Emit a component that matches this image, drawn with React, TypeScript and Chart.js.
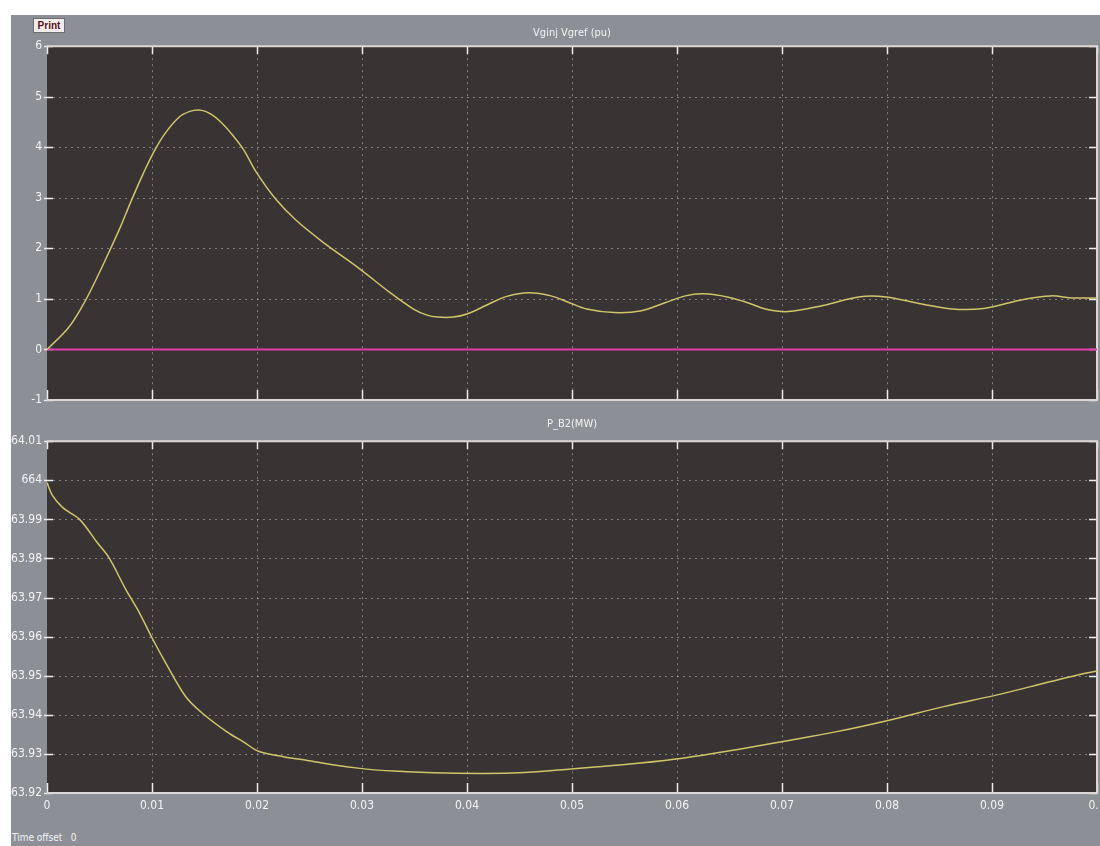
import React, { useEffect, useRef } from "react";
import { Chart, registerables } from "chart.js";

Chart.register(...registerables);

// ---------- data ----------
const TOP_TITLE = "Vginj Vgref (pu)";
const BOTTOM_TITLE = "P_B2(MW)";
const TIME_OFFSET_LABEL = "Time offset";
const TIME_OFFSET_VALUE = "0";

const X_TICKS = [0, 0.01, 0.02, 0.03, 0.04, 0.05, 0.06, 0.07, 0.08, 0.09, 0.1];
const TOP_Y_TICKS = [-1, 0, 1, 2, 3, 4, 5, 6];
const BOTTOM_Y_TICKS = [663.92, 663.93, 663.94, 663.95, 663.96, 663.97, 663.98, 663.99, 664, 664.01];

const VGINJ_T = [
  0, 0.002, 0.0034, 0.0045, 0.0056, 0.0069, 0.008, 0.0091, 0.0102, 0.0113, 0.0126, 0.0136, 0.0144,
  0.0151, 0.0158, 0.0166, 0.0174, 0.0187, 0.0199, 0.0218, 0.0237, 0.0263, 0.0295, 0.0327, 0.0349,
  0.0362, 0.0372, 0.0387, 0.04, 0.042, 0.0438, 0.0459, 0.048, 0.0497, 0.0514, 0.054, 0.0565, 0.0588,
  0.0608, 0.0625, 0.065, 0.0668, 0.0684, 0.0706, 0.0739, 0.0773, 0.0799, 0.0833, 0.0862, 0.0892,
  0.093, 0.0956, 0.0977, 0.1,
];
const VGINJ_V = [
  0, 0.42, 0.87, 1.31, 1.79, 2.38, 2.93, 3.45, 3.92, 4.29, 4.6, 4.71, 4.74,
  4.71, 4.63, 4.49, 4.31, 3.96, 3.52, 2.97, 2.56, 2.12, 1.64, 1.12, 0.8,
  0.68, 0.64, 0.64, 0.7, 0.89, 1.05, 1.12, 1.06, 0.93, 0.8, 0.73, 0.76, 0.92,
  1.06, 1.1, 1.03, 0.92, 0.8, 0.75, 0.87, 1.04, 1.04, 0.9, 0.8, 0.81,
  0.99, 1.06, 1.02, 1.02,
];

const VGREF_T = [0, 0.1];
const VGREF_V = [0, 0];

const PB2_T = [
  0, 0.0005, 0.0015, 0.0031, 0.0048, 0.0059, 0.0075, 0.0088, 0.0101, 0.0113, 0.0132, 0.0148,
  0.0171, 0.0187, 0.0202, 0.0225, 0.0247, 0.0272, 0.0298, 0.033, 0.0379, 0.0442, 0.0497, 0.0548,
  0.0599, 0.065, 0.0701, 0.0752, 0.0803, 0.0854, 0.0905, 0.0956, 0.099, 0.1,
];
const PB2_V = [
  663.9994, 663.9962, 663.993, 663.99, 663.984, 663.9802, 663.9721, 663.9661, 663.9592, 663.9533,
  663.9447, 663.9404, 663.9357, 663.9331, 663.9306, 663.9293, 663.9284, 663.9272, 663.9263,
  663.9256, 663.9251, 663.9251, 663.9261, 663.9272, 663.9287, 663.9308, 663.9332, 663.9357,
  663.9387, 663.9421, 663.9451, 663.9485, 663.9507, 663.9512,
];

// ---------- styles ----------
const FONT = "'Liberation Sans Narrow', 'DejaVu Sans Condensed', 'Arial Narrow', 'Liberation Sans', sans-serif";
const PANEL_GRAY = "#8c8f96";
const PLOT_BG = "#3a3334";
const TEXT_COLOR = "#f4f4f4";
const GRID_COLOR = "rgba(205,205,205,0.5)";
const TICK_COLOR = "#ececec";
const BORDER_COLOR = "#ddd6d6";
const YELLOW = "#cfc56a";
const PINK = "#e03ca6";

const fmt = (v: number) => String(Number(Number(v).toFixed(2)));

const decorPlugin = {
  id: "scopeDecor",
  beforeDraw(chart: any) {
    const { ctx, chartArea: a } = chart;
    ctx.save();
    ctx.fillStyle = PLOT_BG;
    ctx.fillRect(a.left, a.top, a.right - a.left, a.bottom - a.top);
    ctx.restore();
  },
  beforeDatasetsDraw(chart: any) {
    const { ctx, chartArea: a } = chart;
    const xs = chart.scales.x;
    const ys = chart.scales.y;
    ctx.save();
    // dotted grid
    ctx.strokeStyle = GRID_COLOR;
    ctx.lineWidth = 1;
    ctx.setLineDash([2, 4]);
    xs.ticks.forEach((t: any) => {
      const px = Math.round(xs.getPixelForValue(t.value)) + 0.5;
      if (px <= a.left + 2 || px >= a.right - 2) return;
      ctx.beginPath();
      ctx.moveTo(px, a.top);
      ctx.lineTo(px, a.bottom);
      ctx.stroke();
    });
    ys.ticks.forEach((t: any) => {
      const py = Math.round(ys.getPixelForValue(t.value)) + 0.5;
      if (py <= a.top + 2 || py >= a.bottom - 2) return;
      ctx.beginPath();
      ctx.moveTo(a.left, py);
      ctx.lineTo(a.right, py);
      ctx.stroke();
    });
    ctx.setLineDash([]);
    // inner tick marks
    ctx.strokeStyle = TICK_COLOR;
    ctx.lineWidth = 1.5;
    xs.ticks.forEach((t: any) => {
      const px = Math.round(xs.getPixelForValue(t.value)) + 0.5;
      ctx.beginPath();
      ctx.moveTo(px, a.bottom);
      ctx.lineTo(px, a.bottom - 10);
      ctx.moveTo(px, a.top);
      ctx.lineTo(px, a.top + 8);
      ctx.stroke();
    });
    ys.ticks.forEach((t: any) => {
      const py = Math.round(ys.getPixelForValue(t.value)) + 0.5;
      ctx.beginPath();
      ctx.moveTo(a.left - 3, py);
      ctx.lineTo(a.left + 6, py);
      ctx.moveTo(a.right, py);
      ctx.lineTo(a.right - 8, py);
      ctx.stroke();
    });
    // border (top, right, bottom)
    ctx.strokeStyle = BORDER_COLOR;
    ctx.lineWidth = 2;
    ctx.beginPath();
    ctx.moveTo(a.left, a.top);
    ctx.lineTo(a.right, a.top);
    ctx.lineTo(a.right, a.bottom);
    ctx.lineTo(a.left, a.bottom);
    ctx.stroke();
    ctx.restore();
  },
};

function toPoints(t: number[], v: number[]) {
  return t.map((x, i) => ({ x, y: v[i] }));
}

function xScale(showLabels: boolean) {
  return {
    type: "linear",
    min: 0,
    max: 0.1,
    afterBuildTicks: (s: any) => {
      s.ticks = X_TICKS.map((value) => ({ value }));
    },
    grid: { display: false, drawTicks: false },
    border: { display: false },
    ticks: {
      display: showLabels,
      color: TEXT_COLOR,
      font: { family: FONT, size: 12 },
      padding: 6,
      autoSkip: false,
      maxRotation: 0,
      callback: (v: any) => fmt(v),
    },
    afterFit: (s: any) => {
      s.height = showLabels ? 28 : 0;
      s.paddingLeft = 0;
      s.paddingRight = 0;
    },
  };
}

function yScale(min: number, max: number, ticks: number[], size: number) {
  return {
    type: "linear",
    min,
    max,
    afterBuildTicks: (s: any) => {
      s.ticks = ticks.map((value) => ({ value }));
    },
    grid: { display: false, drawTicks: false },
    border: { display: false },
    ticks: {
      color: TEXT_COLOR,
      font: { family: FONT, size },
      padding: 5,
      autoSkip: false,
      callback: (v: any) => fmt(v),
    },
    afterFit: (s: any) => {
      s.width = 36;
      s.paddingTop = 0;
      s.paddingBottom = 0;
    },
  };
}

function titleOpts(text: string, top: number, bottom: number) {
  return {
    display: true,
    text,
    color: TEXT_COLOR,
    fullSize: false,
    font: { family: FONT, size: 11, weight: "normal" },
    padding: { top, bottom },
  };
}

export default function App() {
  const topRef = useRef<HTMLCanvasElement | null>(null);
  const botRef = useRef<HTMLCanvasElement | null>(null);

  useEffect(() => {
    const top = new Chart(topRef.current as HTMLCanvasElement, {
      type: "line",
      data: {
        datasets: [
          {
            data: toPoints(VGINJ_T, VGINJ_V),
            borderColor: YELLOW,
            borderWidth: 1.5,
            pointRadius: 0,
            tension: 0.35,
            fill: false,
          },
          {
            data: toPoints(VGREF_T, VGREF_V),
            borderColor: PINK,
            borderWidth: 2,
            pointRadius: 0,
            fill: false,
          },
        ],
      },
      options: {
        responsive: false,
        animation: false,
        layout: { padding: { top: 0, right: 3, bottom: 15, left: 0 } },
        plugins: {
          legend: { display: false },
          tooltip: { enabled: false },
          title: titleOpts(TOP_TITLE, 12, 6),
        },
        scales: {
          x: xScale(false),
          y: yScale(-1, 6, TOP_Y_TICKS, 12),
        },
      } as any,
      plugins: [decorPlugin],
    });

    const bot = new Chart(botRef.current as HTMLCanvasElement, {
      type: "line",
      data: {
        datasets: [
          {
            data: toPoints(PB2_T, PB2_V),
            borderColor: YELLOW,
            borderWidth: 1.5,
            pointRadius: 0,
            tension: 0.35,
            fill: false,
          },
        ],
      },
      options: {
        responsive: false,
        animation: false,
        layout: { padding: { top: 0, right: 3, bottom: 0, left: 0 } },
        plugins: {
          legend: { display: false },
          tooltip: { enabled: false },
          title: titleOpts(BOTTOM_TITLE, 17, 10),
        },
        scales: {
          x: xScale(true),
          y: yScale(663.92, 664.01, BOTTOM_Y_TICKS, 12),
        },
      } as any,
      plugins: [decorPlugin],
    });

    return () => {
      top.destroy();
      bot.destroy();
    };
  }, []);

  return (
    <div
      style={{
        position: "fixed",
        left: 0,
        top: 0,
        width: 1100,
        height: 846,
        background: "#ffffff",
        overflow: "hidden",
      }}
    >
      <div
        style={{
          position: "absolute",
          left: 11,
          top: 15,
          width: 1089,
          height: 831,
          background: PANEL_GRAY,
        }}
      />
      <canvas
        ref={topRef}
        width={1089}
        height={400}
        style={{ position: "absolute", left: 11, top: 15, width: 1089, height: 400 }}
      />
      <canvas
        ref={botRef}
        width={1089}
        height={420}
        style={{ position: "absolute", left: 11, top: 401, width: 1089, height: 420 }}
      />
      <div
        style={{
          position: "absolute",
          left: 33,
          top: 18,
          width: 32,
          height: 15,
          background: "#f3ecec",
          border: "1px solid #6d6d6d",
          boxSizing: "border-box",
          color: "#5a1426",
          fontFamily: "'Liberation Sans', Arial, sans-serif",
          fontWeight: "bold",
          fontSize: 10,
          lineHeight: "13px",
          textAlign: "center",
        }}
      >
        Print
      </div>
      <div
        style={{
          position: "absolute",
          left: 12,
          top: 832,
          color: TEXT_COLOR,
          fontFamily: FONT,
          fontSize: 10,
          whiteSpace: "pre",
        }}
      >
        {TIME_OFFSET_LABEL + "   " + TIME_OFFSET_VALUE}
      </div>
    </div>
  );
}
